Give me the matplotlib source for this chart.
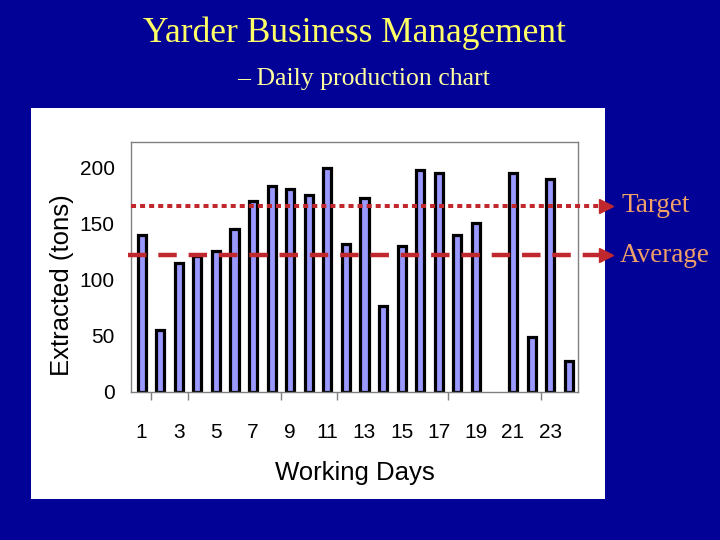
import matplotlib
matplotlib.use("Agg")
import matplotlib.pyplot as plt
from matplotlib.patches import Rectangle

# daily production, tons (day 20 had nothing)
days = list(range(1, 25))
extracted = [140, 55, 115, 121, 126, 145, 170, 184, 181, 176, 200, 132,
             173, 77, 130, 198, 195, 140, 151, 0, 195, 49, 190, 28]
tick_days = [1, 3, 5, 7, 9, 11, 13, 15, 17, 19, 21, 23]
y_ticks = [0, 50, 100, 150, 200]
target = 166
average = 122

bg = "#020296"
red = "#C0282D"
serif = ["Liberation Serif", "DejaVu Serif"]
sans = ["Liberation Sans", "DejaVu Sans"]

fig = plt.figure(figsize=(7.2, 5.4), dpi=100)
fig.patch.set_facecolor(bg)

# white slide panel behind the chart
fig.patches.append(Rectangle((0.0437, 0.0759), 0.7963, 0.7241, transform=fig.transFigure,
                             facecolor="white", edgecolor="none", zorder=-1))

fig.text(0.492, 0.939, "Yarder Business Management", ha="center", va="center",
         color="#FFFF66", fontsize=25.5, family=serif)
fig.text(0.505, 0.853, "\u2013 Daily production chart", ha="center", va="center",
         color="#FFFFA0", fontsize=18.5, family=serif)

ax = fig.add_axes([0.1826, 0.2741, 0.6202, 0.4629])
ax.set_zorder(2)
ax.set_facecolor("white")
edges = [2.3 if v > 0 else 0 for v in extracted]
ax.bar(days, extracted, width=0.44, color="#9999FF", edgecolor="black", linewidth=edges, zorder=2)

ax.set_xlim(0.45, 24.5)
ax.set_ylim(0, 223)
ax.set_yticks(y_ticks)
ax.set_xticks(tick_days)
ax.set_xticks([1.5, 3.5, 8.5, 11.5, 17.5, 22.5], minor=True)
ax.tick_params(axis="y", length=0, pad=12, labelsize=15)
ax.tick_params(axis="x", which="major", length=0, pad=22, labelsize=15)
ax.tick_params(axis="x", which="minor", length=6, color="#808080", width=1)
for lab in ax.get_xticklabels() + ax.get_yticklabels():
    lab.set_family(sans)
for s in ax.spines.values():
    s.set_color("#808080")
    s.set_linewidth(1)

ax.set_xlabel("Working Days", fontsize=18.5, family=sans, labelpad=14)
ax.set_ylabel("Extracted (tons)", fontsize=18.5, family=sans)
ax.yaxis.set_label_coords(-0.128, 0.426)

# target / average reference lines running off the chart with arrowheads
tr = ax.get_yaxis_transform()
ax.plot([0, 1.05], [target, target], transform=tr, clip_on=False, color=red,
        linewidth=2.9, linestyle=(0, (1.25, 1.0)), zorder=3)
ax.plot([-0.008, 1.05], [average, average], transform=tr, clip_on=False, color=red,
        linewidth=3.2, linestyle=(0, (4.15, 2.67)), zorder=3)
for y in (target, average):
    ax.plot([1.062], [y], transform=tr, clip_on=False, marker=">", markersize=10,
            color=red, zorder=4)
ax.text(1.098, target, "Target", transform=tr, ha="left", va="center",
        color="#F0A068", fontsize=19.5, family=serif)
ax.text(1.094, average, "Average", transform=tr, ha="left", va="center",
        color="#F0A068", fontsize=19.5, family=serif)

fig.savefig("out.png", dpi=100, facecolor=bg)
